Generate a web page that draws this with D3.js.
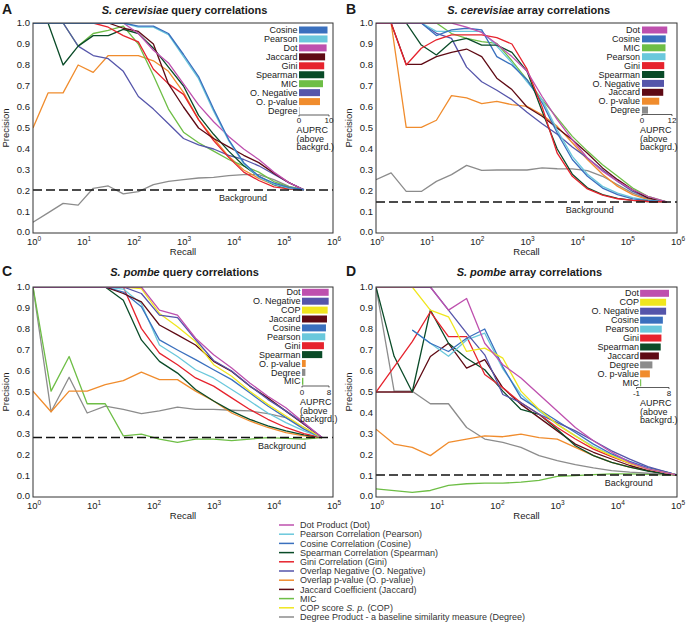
<!DOCTYPE html>
<html><head><meta charset="utf-8">
<script src="https://cdn.jsdelivr.net/npm/d3@7"></script>
<style>
body{margin:0;background:#fff;}
svg text{font-family:"Liberation Sans",Arial,Helvetica,sans-serif;}
</style></head>
<body><svg id="c" width="688" height="628"></svg>
<script>
// ---------- DATA ----------
const recallA = [1,2,4,8,16,32,64,128,256,512,1024,2048,4096,8192,16384,32768,65536,131072,262144];
const recallB = [1,2,4,8,16,32,64,128,256,512,1024,2048,4096,8192,16384,32768,65536,131072,262144,620000];
const recallC = [1,2,4,8,16,32,64,128,256,512,1024,2048,4096,8192,16384,32768,65536];
const recallD = [1,2,4,8,16,32,64,128,256,512,1024,2048,4096,8192,16384,32768,65536,100000];

const bgA = 0.205, bgB = 0.148, bgC = 0.283, bgD = 0.105;

// Panel A: S. cerevisiae query
const aCosine   = [1,1,1,1,1,1,1,0.985,0.985,0.95,0.85,0.745,0.59,0.445,0.335,0.27,0.238,0.217,0.206];
const aPearson  = [1,1,1,1,1,1,1,0.98,0.98,0.945,0.84,0.735,0.58,0.44,0.33,0.265,0.232,0.214,0.206];
const aDot      = [1,1,1,1,1,1,1,0.95,0.87,0.81,0.71,0.61,0.53,0.46,0.40,0.35,0.29,0.24,0.206];
const aJaccard  = [1,1,1,1,1,1,0.975,0.96,0.9,0.71,0.6,0.5,0.45,0.41,0.37,0.335,0.285,0.24,0.206];
const aGini     = [1,1,1,1,1,0.98,0.94,0.91,0.78,0.71,0.66,0.54,0.44,0.36,0.29,0.25,0.22,0.21,0.206];
const aSpearman = [1,1,0.8,0.89,0.94,0.94,0.97,0.95,0.88,0.79,0.70,0.56,0.47,0.39,0.32,0.27,0.23,0.21,0.206];
const aMIC      = [1,1,1,0.89,0.95,0.965,0.985,0.9,0.75,0.59,0.48,0.43,0.39,0.35,0.32,0.29,0.245,0.22,0.206];
const aONeg     = [1,1,1,0.89,0.845,0.83,0.77,0.65,0.59,0.52,0.45,0.42,0.40,0.37,0.35,0.32,0.28,0.24,0.206];
const aOpval    = [0.5,0.667,0.667,0.8,0.765,0.845,0.845,0.845,0.82,0.77,0.67,0.54,0.45,0.365,0.3,0.26,0.23,0.215,0.206];
const aDegree   = [0.051,0.096,0.141,0.133,0.213,0.224,0.186,0.197,0.23,0.246,0.254,0.262,0.265,0.273,0.278,0.278,0.254,0.222,0.206];
const barNamesA = ["Cosine","Pearson","Dot","Jaccard","Gini","Spearman","MIC","O. Negative","O. p-value","Degree"];
const barValsA  = [9.5,9.5,9.2,8.7,8.4,8.4,8.0,7.0,7.0,0.15];

// Panel B: S. cerevisiae array
const bDot      = [1,1,1,1,1,1,0.98,0.955,0.9,0.84,0.77,0.65,0.54,0.444,0.357,0.294,0.246,0.206,0.175,0.148];
const bCosine   = [1,1,1,1,0.94,0.967,0.975,0.967,0.84,0.8,0.73,0.62,0.476,0.35,0.27,0.214,0.183,0.163,0.154,0.148];
const bMIC      = [1,1,1,1,1,0.95,0.927,0.911,0.903,0.82,0.73,0.635,0.548,0.46,0.39,0.325,0.27,0.214,0.175,0.148];
const bPearson  = [1,1,1,1,0.96,0.96,0.96,0.96,0.89,0.81,0.72,0.635,0.49,0.365,0.28,0.222,0.19,0.168,0.156,0.148];
const bGini     = [1,1,0.8,0.88,0.92,0.943,0.943,0.943,0.93,0.9,0.78,0.6,0.38,0.27,0.21,0.18,0.163,0.155,0.15,0.148];
const bSpearman = [1,1,1,0.895,0.848,0.911,0.927,0.895,0.895,0.86,0.77,0.58,0.4,0.28,0.215,0.183,0.165,0.155,0.15,0.148];
const bONeg     = [1,1,1,1,0.951,0.927,0.79,0.72,0.68,0.635,0.575,0.52,0.47,0.41,0.357,0.3,0.246,0.198,0.167,0.148];
const bJaccard  = [1,1,0.803,0.803,0.84,0.86,0.876,0.84,0.737,0.683,0.6,0.556,0.5,0.444,0.38,0.31,0.254,0.206,0.167,0.148];
const bOpval    = [1,1,0.503,0.503,0.537,0.654,0.643,0.616,0.627,0.611,0.603,0.563,0.508,0.43,0.35,0.28,0.222,0.183,0.159,0.148];
const bDegree   = [0.254,0.286,0.198,0.198,0.246,0.278,0.322,0.298,0.3,0.3,0.3,0.31,0.306,0.305,0.297,0.27,0.23,0.19,0.163,0.148];
const barNamesB = ["Dot","Cosine","MIC","Pearson","Gini","Spearman","O. Negative","Jaccard","O. p-value","Degree"];
const barValsB  = [10.1,9.5,9.4,9.4,8.9,8.9,8.8,8.5,6.9,2.4];

// Panel C: S. pombe query
const cDot      = [1,1,1,1,1,1,1,0.89,0.866,0.756,0.677,0.614,0.543,0.48,0.425,0.354,0.283];
const cONeg     = [1,1,1,1,1,1,0.969,0.866,0.854,0.75,0.65,0.6,0.53,0.465,0.41,0.35,0.283];
const cCOP      = [1,1,1,1,1,1,0.992,0.874,0.811,0.74,0.63,0.575,0.504,0.441,0.386,0.331,0.283];
const cJaccard  = [1,1,1,1,1,0.969,0.929,0.819,0.772,0.724,0.646,0.598,0.528,0.472,0.409,0.346,0.283];
const cCosine   = [1,1,1,1,1,0.976,0.906,0.748,0.70,0.654,0.606,0.559,0.496,0.433,0.378,0.323,0.283];
const cPearson  = [1,1,1,1,1,0.99,0.92,0.724,0.669,0.606,0.567,0.512,0.457,0.40,0.354,0.315,0.283];
const cGini     = [1,1,1,1,1,1,0.803,0.685,0.63,0.567,0.528,0.472,0.417,0.37,0.331,0.302,0.283];
const cSpearman = [1,1,1,1,1,0.937,0.748,0.646,0.59,0.512,0.457,0.409,0.37,0.339,0.315,0.296,0.283];
const cOpval    = [0.504,0.406,0.504,0.504,0.535,0.554,0.595,0.559,0.559,0.504,0.457,0.40,0.362,0.331,0.307,0.291,0.283];
const cDegree   = [1,0.406,0.57,0.40,0.433,0.417,0.397,0.41,0.428,0.417,0.417,0.413,0.41,0.397,0.378,0.331,0.283];
const cMIC      = [1,0.504,0.669,0.444,0.444,0.291,0.299,0.276,0.26,0.276,0.276,0.268,0.276,0.283,0.279,0.276,0.283];
const barNamesC = ["Dot","O. Negative","COP","Jaccard","Cosine","Pearson","Gini","Spearman","O. p-value","Degree","MIC"];
const barValsC  = [7.9,7.9,7.6,7.4,7.1,6.9,6.5,6.0,1.1,1.0,0.4];

// Panel D: S. pombe array
const dDot      = [1,1,1,1,0.89,0.945,0.732,0.63,0.567,0.488,0.41,0.331,0.268,0.213,0.165,0.134,0.115,0.105];
const dCOP      = [1,1,1,0.89,0.858,0.693,0.709,0.661,0.504,0.417,0.346,0.291,0.236,0.197,0.16,0.134,0.115,0.105];
const dONeg     = [1,1,1,1,0.89,0.78,0.677,0.488,0.449,0.394,0.354,0.315,0.268,0.22,0.18,0.145,0.12,0.105];
const dCosine   = [null,null,0.795,0.732,0.693,0.756,0.80,0.62,0.472,0.417,0.362,0.307,0.252,0.205,0.17,0.14,0.12,0.105];
const dPearson  = [null,null,0.795,0.732,0.67,0.748,0.78,0.61,0.488,0.41,0.346,0.291,0.24,0.2,0.165,0.138,0.118,0.105];
const dGini     = [0.5,0.62,0.74,0.882,0.764,0.764,0.583,0.52,0.449,0.394,0.331,0.276,0.228,0.192,0.16,0.134,0.115,0.105];
const dSpearman = [1,0.67,0.5,0.89,0.732,0.661,0.606,0.504,0.417,0.394,0.323,0.244,0.197,0.165,0.142,0.123,0.11,0.105];
const dJaccard  = [0.5,0.5,0.5,0.669,0.732,0.614,0.654,0.52,0.441,0.378,0.315,0.252,0.213,0.181,0.15,0.126,0.11,0.105];
const dDegree   = [1,0.504,0.504,0.444,0.444,0.331,0.276,0.26,0.236,0.197,0.173,0.154,0.139,0.126,0.118,0.113,0.108,0.105];
const dOpval    = [0.323,0.252,0.236,0.197,0.26,0.276,0.291,0.287,0.299,0.283,0.276,0.236,0.197,0.165,0.142,0.126,0.112,0.105];
const dMIC      = [0.039,0.03,0.022,0.031,0.055,0.063,0.066,0.066,0.071,0.079,0.098,0.102,0.107,0.11,0.11,0.108,0.106,0.105];
const barNamesD = ["Dot","COP","O. Negative","Cosine","Pearson","Gini","Spearman","Jaccard","Degree","O. p-value","MIC"];
const barValsD  = [8.0,7.2,7.2,6.3,6.0,5.9,5.7,5.2,3.4,2.7,0.3];

const yTicks = [0,0.1,0.2,0.3,0.4,0.5,0.6,0.7,0.8,0.9,1.0];
const legendNames = ["Dot","Pearson","Cosine","Spearman","Gini","O. Negative","O. p-value","Jaccard","MIC","COP","Degree"];
const legendLabels = ["Dot Product (Dot)","Pearson Correlation (Pearson)","Cosine Correlation (Cosine)","Spearman Correlation (Spearman)","Gini Correlation (Gini)","Overlap Negative (O. Negative)","Overlap p-value (O. p-value)","Jaccard Coefficient (Jaccard)","MIC","COP score |S. p.| (COP)","Degree Product - a baseline similarity measure (Degree)"];

// ---------- STYLE ----------
const colors = {
  "Dot":"#be50ae","Pearson":"#6ac8dc","Cosine":"#3a70be","Spearman":"#0a4b28","Gini":"#e6232d",
  "O. Negative":"#5555aa","O. p-value":"#f08c2d","Jaccard":"#5f0a14","MIC":"#6ebe46","COP":"#f0e61e","Degree":"#8c8c8c"
};

const panels = [
  {letter:"A", letterX:2, sp:"S. cerevisiae", rest:" query correlations", titleX:184.5, titleY:13.5,
   l:33,r:333,t:23,b:233, xMax:1e6, recall:recallA, bg:bgA, bgFrac:0.70,
   series:[["Degree",aDegree],["O. p-value",aOpval],["MIC",aMIC],["O. Negative",aONeg],["Spearman",aSpearman],["Gini",aGini],["Jaccard",aJaccard],["Dot",aDot],["Pearson",aPearson],["Cosine",aCosine]],
   bars:{names:barNamesA, vals:barValsA, dom:[0,10], rng:[299,329], labelX:297.5, y0:30, step:8.95, axisY:115, tickY:123, textX:296.5, textY:[133,141.5,150]}},
  {letter:"B", letterX:346, sp:"S. cerevisiae", rest:" array correlations", titleX:528.7, titleY:13.5,
   l:376,r:677,t:23,b:233, xMax:1e6, recall:recallB, bg:bgB, bgFrac:0.71,
   series:[["Degree",bDegree],["O. p-value",bOpval],["O. Negative",bONeg],["Jaccard",bJaccard],["MIC",bMIC],["Pearson",bPearson],["Cosine",bCosine],["Spearman",bSpearman],["Gini",bGini],["Dot",bDot]],
   bars:{names:barNamesB, vals:barValsB, dom:[0,12], rng:[642,672], labelX:640, y0:30, step:8.9, axisY:114.5, tickY:122.5, textX:640, textY:[133,141.5,150]}},
  {letter:"C", letterX:2, sp:"S. pombe", rest:" query correlations", titleX:184.5, titleY:276,
   l:33,r:333,t:287,b:497, xMax:1e5, recall:recallC, bg:bgC, bgFrac:0.83,
   series:[["Degree",cDegree],["MIC",cMIC],["O. p-value",cOpval],["Spearman",cSpearman],["Gini",cGini],["Pearson",cPearson],["Cosine",cCosine],["Jaccard",cJaccard],["COP",cCOP],["O. Negative",cONeg],["Dot",cDot]],
   bars:{names:barNamesC, vals:barValsC, dom:[0,8], rng:[302,329], labelX:300.5, y0:292.3, step:8.9, axisY:386, tickY:395, textX:300, textY:[405,413.5,422]}},
  {letter:"D", letterX:346, sp:"S. pombe", rest:" array correlations", titleX:529.4, titleY:276,
   l:376,r:677,t:287,b:497, xMax:1e5, recall:recallD, bg:bgD, bgFrac:0.84,
   series:[["MIC",dMIC],["Degree",dDegree],["O. p-value",dOpval],["Jaccard",dJaccard],["Spearman",dSpearman],["Gini",dGini],["Pearson",dPearson],["Cosine",dCosine],["O. Negative",dONeg],["COP",dCOP],["Dot",dDot]],
   bars:{names:barNamesD, vals:barValsD, dom:[-1,8], rng:[636.5,669], labelX:639, y0:293.3, step:8.95, axisY:387.5, tickY:396, textX:640, textY:[406,414.5,423]}}
];

const svg = d3.select("#c");
const TXT = "#1a1a1a";

panels.forEach((p, pi) => {
  const g = svg.append("g");
  const x = d3.scaleLog().domain([1, p.xMax]).range([p.l, p.r]);
  const y = d3.scaleLinear().domain([0, 1]).range([p.b, p.t]);

  // panel letter & title
  g.append("text").attr("x", p.letterX).attr("y", p.titleY).attr("font-size", 14).attr("font-weight", "bold").attr("fill", TXT).text(p.letter);
  const t = g.append("text").attr("x", p.titleX).attr("y", p.titleY).attr("text-anchor", "middle")
    .attr("font-size", 11).attr("font-weight", "bold").attr("fill", TXT);
  t.append("tspan").attr("font-style", "italic").text(p.sp);
  t.append("tspan").text(p.rest);

  // y tick labels
  g.selectAll(".yt").data(yTicks).enter().append("text")
    .attr("x", p.l - 3).attr("y", d => y(d) - (d === 0 ? 1.5 : 0)).attr("dy", "0.35em").attr("text-anchor", "end")
    .attr("font-size", 9.5).attr("fill", TXT).text(d => d3.format(".1f")(d));
  // x tick labels
  const xt = x.ticks().filter(v => Math.abs(Math.log10(v) - Math.round(Math.log10(v))) < 1e-9);
  xt.forEach(v => {
    const tx = g.append("text").attr("x", x(v) + 1).attr("y", p.b + 12).attr("text-anchor", "middle")
      .attr("font-size", 9.5).attr("fill", TXT);
    tx.append("tspan").text("10");
    tx.append("tspan").attr("font-size", 6.5).attr("dy", -4).text(Math.round(Math.log10(v)));
  });
  g.append("text").attr("x", (p.l + p.r) / 2).attr("y", p.b + 21.5).attr("text-anchor", "middle")
    .attr("font-size", 9.5).attr("fill", TXT).text("Recall");
  g.append("text").attr("transform", `translate(${p.l - 24},${(p.t + p.b) / 2}) rotate(-90)`)
    .attr("text-anchor", "middle").attr("font-size", 9.5).attr("fill", TXT).text("Precision");

  // clip
  const cid = "clip" + pi;
  svg.append("clipPath").attr("id", cid).append("rect")
    .attr("x", p.l).attr("y", p.t).attr("width", p.r - p.l).attr("height", p.b - p.t);
  const lg = g.append("g").attr("clip-path", `url(#${cid})`);
  const line = d3.line().defined(d => d[1] != null).x(d => x(d[0])).y(d => y(d[1]));
  p.series.forEach(([name, vals]) => {
    const pts = p.recall.map((r, i) => [r, vals[i]]);
    lg.append("path").attr("d", line(pts)).attr("fill", "none")
      .attr("stroke", colors[name]).attr("stroke-width", 1.3).attr("stroke-linejoin", "round");
  });

  // background
  g.append("line").attr("x1", p.l).attr("x2", p.r).attr("y1", y(p.bg)).attr("y2", y(p.bg))
    .attr("stroke", "#111").attr("stroke-width", 1.5).attr("stroke-dasharray", "9,4");
  g.append("text").attr("x", p.l + p.bgFrac * (p.r - p.l)).attr("y", y(p.bg) + 11.5).attr("text-anchor", "middle")
    .attr("font-size", 9).attr("fill", TXT).text("Background");

  // frame
  g.append("rect").attr("x", p.l).attr("y", p.t).attr("width", p.r - p.l).attr("height", p.b - p.t)
    .attr("fill", "none").attr("stroke", "#333").attr("stroke-width", 1);

  // inset AUPRC bars
  const B = p.bars;
  const bx = d3.scaleLinear().domain(B.dom).range(B.rng);
  B.names.forEach((n, i) => {
    const ry = B.y0 + i * B.step;
    g.append("text").attr("x", B.labelX).attr("y", ry).attr("dy", "0.35em").attr("text-anchor", "end")
      .attr("font-size", 9).attr("fill", TXT).text(n);
    g.append("rect").attr("x", bx(0)).attr("y", ry - 3.5).attr("width", Math.max(0.5, bx(B.vals[i]) - bx(0))).attr("height", 7)
      .attr("fill", colors[n]);
  });
  g.append("line").attr("x1", B.rng[0]).attr("x2", B.rng[1]).attr("y1", B.axisY).attr("y2", B.axisY)
    .attr("stroke", "#333").attr("stroke-width", 0.8);
  B.dom.forEach(v => {
    g.append("line").attr("x1", bx(v)).attr("x2", bx(v)).attr("y1", B.axisY).attr("y2", B.axisY + 1.5)
      .attr("stroke", "#333").attr("stroke-width", 0.8);
    g.append("text").attr("x", bx(v)).attr("y", B.tickY).attr("text-anchor", "middle")
      .attr("font-size", 8).attr("fill", TXT).text(v);
  });
  ["AUPRC", "(above", "backgrd.)"].forEach((s, i) => {
    g.append("text").attr("x", B.textX).attr("y", B.textY[i]).attr("font-size", 9).attr("fill", TXT).text(s);
  });
});

// bottom legend
const lgd = svg.append("g");
legendNames.forEach((n, i) => {
  const ly = 525 + i * 9.2;
  lgd.append("line").attr("x1", 279).attr("x2", 294).attr("y1", ly).attr("y2", ly)
    .attr("stroke", colors[n]).attr("stroke-width", 1.5);
  const tx = lgd.append("text").attr("x", 300).attr("y", ly).attr("dy", "0.35em").attr("font-size", 9).attr("fill", "#333");
  legendLabels[i].split("|").forEach((part, j) => {
    tx.append("tspan").attr("font-style", j === 1 ? "italic" : "normal").text(part);
  });
});
</script>
</body></html>
